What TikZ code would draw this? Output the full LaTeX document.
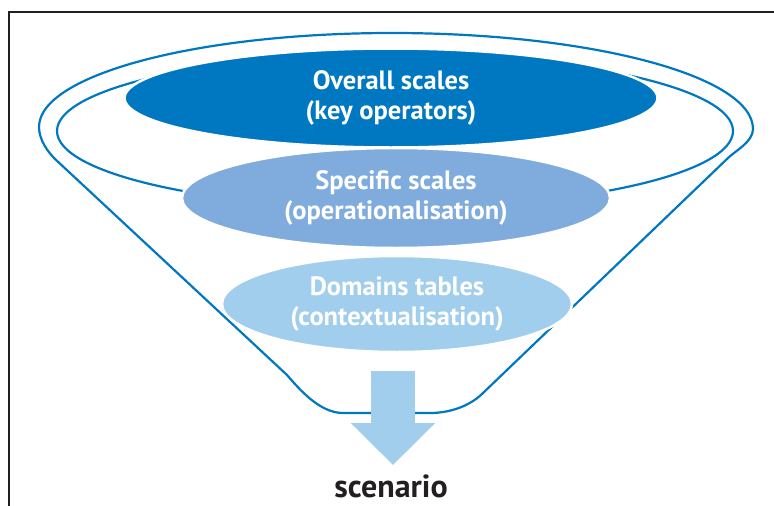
\documentclass[tikz,border=0pt]{standalone}
\usepackage{fontspec}
\setmainfont{PT Sans}
\usetikzlibrary{shapes.geometric,arrows.meta}
\definecolor{darkblue}{RGB}{0,120,193}
\definecolor{midblue}{RGB}{127,172,220}
\definecolor{lightblue}{RGB}{161,206,237}
\definecolor{framegray}{RGB}{35,31,32}

\begin{document}
\begin{tikzpicture}
    [x=1pt, y=-1pt, every node/.style = {ellipse, draw = white, line width=2.5pt, inner sep=0pt, text=white, align=center, font=\fontsize{26.5}{30}\selectfont\bfseries}]
    \useasboundingbox (0,0) rectangle (774,506);
    \draw[framegray, line width=2pt] (9,506) -- (9,12) -- (774,12);
    % funnel and rim
    \draw[darkblue, line width=2.2pt] (287,375) -- (55,159) .. controls (48,152) and (39,140) .. (39,127)
      .. controls (39,75) and (197,33) .. (392,33) .. controls (591,33) and (753,76) .. (753,129)
      .. controls (753,142) and (735,151) .. (728,158) -- (483,393) .. controls (470,406) and (450,413) .. (430,413)
      -- (343,413) .. controls (320,413) and (300,390) .. cycle;
    \draw[darkblue, line width=2.2pt] (395,131) ellipse [x radius=338, y radius=77];
    \node[fill=darkblue, minimum width=533pt, minimum height=99pt] (e1) at (391,98) {Overall scales\\(key operators)};
    \node[fill=midblue, minimum width=428pt, minimum height=100pt] (e2) at (396,198) {Specific scales\\(operationalisation)};
    \node[fill=lightblue, minimum width=350pt, minimum height=96pt] (e3) at (397,304) {Domains tables\\(contextualisation)};
    \node[rectangle, draw=none, text=framegray, anchor=base, font=\fontsize{32}{36}\selectfont\bfseries] (sc) at (391,497) {scenario};
    \coordinate (a1) at (393,371);
    \coordinate (a2) at (393,465);
    \draw[lightblue, line width=44pt, -{Triangle[width=82pt, length=42pt]}] (a1) -- (a2);
  \end{tikzpicture}
\end{document}
